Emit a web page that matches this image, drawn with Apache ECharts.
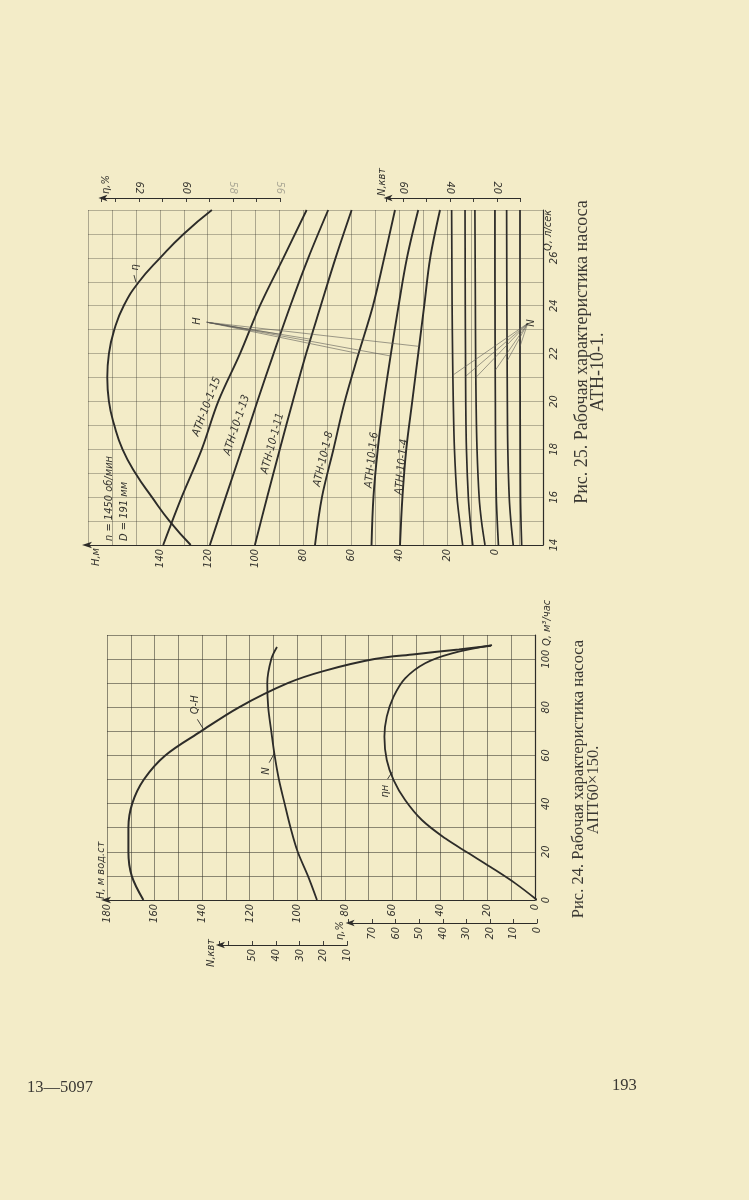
<!DOCTYPE html>
<html>
<head>
<meta charset="utf-8">
<title>Рабочие характеристики насосов</title>
<script src="https://cdn.jsdelivr.net/npm/echarts@6.0.0/dist/echarts.min.js"></script>
<style>
html,body{margin:0;padding:0;background:#f3ecc8;}
#chart{width:749px;height:1200px;}
</style>
</head>
<body>
<div id="chart"></div>
<script>
// ===== Рис. 24. Насос АПТ60×150 =====
const f24_QH_Q = [0, 10, 20, 30, 40, 50, 60, 70, 80, 90, 95, 100, 102, 104, 105.5];
const f24_QH_H = [164.7, 169.6, 171, 171, 169.4, 164.5, 155.5, 140.5, 124.5, 104, 89, 67.5, 50.5, 32, 18.5];
const f24_N_Q = [0, 10, 20, 30, 40, 50, 60, 70, 80, 90, 100, 105];
const f24_N = [22.8, 26.6, 30.9, 33.9, 36.4, 38.8, 40.6, 42.0, 43.3, 43.7, 42.0, 39.6];
const f24_eta_Q = [0, 6.9, 13.8, 19.4, 25.6, 33.2, 41.5, 49.8, 58.1, 67.8, 76.1, 84.4, 92, 98.3, 102.4, 105.8];
const f24_eta = [0, 9.2, 19.9, 29.0, 39.0, 48.9, 56.0, 60.9, 63.8, 64.8, 63.8, 60.9, 56.0, 47.5, 36.1, 19.1];
const f24_H_ticks = [0, 20, 40, 60, 80, 100, 120, 140, 160, 180];
const f24_Q_ticks = [0, 20, 40, 60, 80, 100];
const f24_eta_ticks = [0, 10, 20, 30, 40, 50, 60, 70];
const f24_N_ticks = [10, 20, 30, 40, 50];

// ===== Рис. 25. Насос АТН-10-1 =====
const f25_models = ['АТН-10-1-15', 'АТН-10-1-13', 'АТН-10-1-11', 'АТН-10-1-8', 'АТН-10-1-6', 'АТН-10-1-4'];
const f25_H_Q = [14, 16, 18, 20, 22, 24, 26, 28];
const f25_H15 = [138.6, 130.9, 122.5, 115.6, 106.5, 98.2, 88.4, 78.7];
const f25_H13 = [119.1, 112.5, 105.8, 99.3, 92.5, 85.5, 78.0, 69.7];
const f25_H11 = [100.3, 95.2, 89.9, 84.5, 78.9, 72.8, 66.6, 59.9];
const f25_H8 = [75.2, 72.3, 67.5, 62.8, 57.0, 51.0, 46.3, 41.8];
const f25_H6 = [51.6, 50.8, 49.0, 46.5, 43.5, 40.3, 36.8, 32.1];
const f25_H4 = [39.7, 38.7, 37.1, 34.6, 32.1, 29.6, 27.1, 23.0];
const f25_N_Q = [14, 15, 16, 18, 20, 22, 24, 26, 28];
const f25_N15 = [34.6, 35.9, 37.0, 38.1, 38.6, 38.9, 39.1, 39.2, 39.3];
const f25_N13 = [30.3, 31.4, 32.2, 33.0, 33.3, 33.4, 33.5, 33.55, 33.6];
const f25_N11 = [25.1, 26.6, 27.6, 28.5, 28.9, 29.1, 29.2, 29.3, 29.4];
const f25_N8 = [19.4, 19.9, 20.3, 20.6, 20.7, 20.8, 20.85, 20.9, 20.9];
const f25_N6 = [13.1, 14.1, 14.8, 15.4, 15.6, 15.7, 15.8, 15.85, 15.9];
const f25_N4 = [9.5, 9.8, 10.0, 10.1, 10.15, 10.2, 10.2, 10.2, 10.2];
const f25_eta_Q = [14, 15, 16, 17, 18, 19, 20, 21, 22, 23, 24, 25, 26, 27, 28];
const f25_eta = [59.8, 60.7, 61.45, 62.15, 62.7, 63.05, 63.28, 63.35, 63.28, 63.05, 62.65, 62.0, 61.1, 60.1, 58.9];
const f25_H_ticks = [0, 20, 40, 60, 80, 100, 120, 140];
const f25_Q_ticks = [14, 16, 18, 20, 22, 24, 26];
const f25_eta_ticks = [56, 58, 60, 62];
const f25_eta_faded = [56, 58];
const f25_N_ticks = [20, 40, 60];

// ===== styling =====
const INK = '#2d2c29';
const TXT = '#35342f';
const GRID24 = 'rgba(55,53,45,0.62)';
const GRID25 = 'rgba(55,53,45,0.42)';
const FONT = '"Liberation Sans Narrow", "DejaVu Sans Condensed", "Liberation Sans", "DejaVu Sans", sans-serif';
const SERIF = '"Liberation Serif", "DejaVu Serif", serif';
const LFONT = 'italic 11px ' + FONT;

function lbl(ticks, extra) {
  return Object.assign({
    show: true, rotate: 90, margin: 4, fontFamily: FONT, fontStyle: 'italic', fontSize: 11,
    color: TXT, showMinLabel: true, showMaxLabel: true,
    formatter: v => ticks.indexOf(v) >= 0 ? String(v) : ''
  }, extra || {});
}
function mainX(grid, min, max, gridColor, ticks) {
  return {
    type: 'value', gridIndex: grid, inverse: true, min, max, interval: 10, position: 'bottom',
    axisLine: { show: true, onZero: false, lineStyle: { color: INK, width: 1.2 },
      symbol: ['arrow', 'none'], symbolSize: [5, 10], symbolOffset: [-6, 0] },
    axisTick: { show: false },
    splitLine: { show: true, lineStyle: { color: gridColor, width: 0.9 } },
    axisLabel: lbl(ticks)
  };
}
function hiddenX(grid, min, max) {
  return { type: 'value', gridIndex: grid, inverse: true, min, max, show: false,
    axisLine: { onZero: false }, splitLine: { show: false } };
}
function scaleX(grid, min, max, interval, pos, ticks, extraLbl) {
  return {
    type: 'value', gridIndex: grid, inverse: true, min, max, interval, position: pos,
    axisLine: { show: true, onZero: false, lineStyle: { color: INK, width: 1 },
      symbol: ['arrow', 'none'], symbolSize: [5, 9], symbolOffset: [-3, 0] },
    axisTick: { show: true, inside: true, length: 4, lineStyle: { color: INK, width: 0.9 } },
    splitLine: { show: false },
    axisLabel: lbl(ticks, extraLbl)
  };
}
function hiddenY(grid) {
  return { type: 'value', gridIndex: grid, min: 0, max: 1, show: false, splitLine: { show: false } };
}
function curve(name, xi, yi, xs, qs, w, sm) {
  return {
    type: 'line', name, xAxisIndex: xi, yAxisIndex: yi,
    data: xs.map((x, i) => [x, qs[i]]),
    smooth: sm || 0.35, symbol: 'none', silent: true, animation: false, z: 3,
    lineStyle: { color: INK, width: w || 1.8 }
  };
}

const chart = echarts.init(document.getElementById('chart'), null, { renderer: 'canvas', width: 749, height: 1200 });

const f25_H_sets = [f25_H15, f25_H13, f25_H11, f25_H8, f25_H6, f25_H4];
const f25_N_sets = [f25_N15, f25_N13, f25_N11, f25_N8, f25_N6, f25_N4];

const option = {
  backgroundColor: '#f3ecc8',
  animation: false,
  grid: [
    { left: 107, top: 635, width: 428, height: 265, outerBoundsMode: 'none' },      // 0 fig.24 main
    { left: 348.6, top: 922, width: 188.4, height: 1, outerBoundsMode: 'none' },    // 1 fig.24 η scale
    { left: 218.9, top: 944, width: 128.4, height: 1, outerBoundsMode: 'none' },    // 2 fig.24 N scale
    { left: 88, top: 210, width: 455, height: 335, outerBoundsMode: 'none' },       // 3 fig.25 main
    { left: 101.4, top: 198, width: 178.6, height: 1, outerBoundsMode: 'none' },    // 4 fig.25 η scale
    { left: 386.55, top: 198, width: 133.95, height: 1, outerBoundsMode: 'none' }   // 5 fig.25 N scale
  ],
  xAxis: [
    mainX(0, 0, 180, GRID24, f24_H_ticks),            // 0 H, м вод.ст
    hiddenX(0, -68.9, 111.1),                          // 1 N, квт (fig.24)
    hiddenX(0, 0.85, 182.6),                           // 2 η, % (fig.24)
    scaleX(1, 0, 80, 10, 'bottom', f24_eta_ticks),     // 3 η scale
    scaleX(2, 10, 64, 10, 'bottom', f24_N_ticks),      // 4 N scale
    mainX(3, -20, 170, GRID25, f25_H_ticks),           // 5 H, м (fig.25)
    hiddenX(3, 0.43, 194),                             // 6 N, квт (fig.25)
    hiddenX(3, 44.81, 64.17),                          // 7 η, % (fig.25)
    scaleX(4, 56, 63.6, 1, 'top', f25_eta_ticks, {
      formatter: v => f25_eta_ticks.indexOf(v) >= 0 ? (f25_eta_faded.indexOf(v) >= 0 ? '{f|' + v + '}' : String(v)) : '',
      rich: { f: { color: '#aaa795', fontFamily: FONT, fontStyle: 'italic', fontSize: 11 } }
    }),
    scaleX(5, 10, 67, 10, 'top', f25_N_ticks)
  ],
  yAxis: [
    { type: 'value', gridIndex: 0, min: 0, max: 110, interval: 10, position: 'right',
      axisLine: { show: true, onZero: false, lineStyle: { color: INK, width: 1.2 } },
      axisTick: { show: false },
      splitLine: { show: true, lineStyle: { color: GRID24, width: 0.9 } },
      axisLabel: lbl(f24_Q_ticks, { margin: 6 }) },
    hiddenY(1),
    hiddenY(2),
    { type: 'value', gridIndex: 3, min: 14, max: 28, interval: 1, position: 'right',
      axisLine: { show: true, onZero: false, lineStyle: { color: INK, width: 1.2 } },
      axisTick: { show: false },
      splitLine: { show: true, lineStyle: { color: GRID25, width: 0.8 } },
      axisLabel: lbl(f25_Q_ticks, { margin: 6 }) },
    hiddenY(4),
    hiddenY(5)
  ],
  series: [
    curve('Q-H', 0, 0, f24_QH_H, f24_QH_Q, 2),
    curve('N', 1, 0, f24_N, f24_N_Q, 1.8),
    curve('ηн', 2, 0, f24_eta, f24_eta_Q, 1.8)
  ].concat(
    f25_models.map((m, i) => curve(m + ' H', 5, 3, f25_H_sets[i], f25_H_Q, 1.9)),
    f25_models.map((m, i) => curve(m + ' N', 6, 3, f25_N_sets[i], f25_N_Q, 1.7)),
    [curve('η', 7, 3, f25_eta, f25_eta_Q, 1.9, 0.5)]
  )
};
chart.setOption(option);

// ===== annotations (placed in data coordinates) =====
const P = (xi, yi, v) => chart.convertToPixel({ xAxisIndex: xi, yAxisIndex: yi }, v);
const R90 = Math.PI / 2;
function text(p, str, o) {
  o = o || {};
  const align = o.align || 'center', va = o.va || 'middle';
  return {
    type: 'text', x: p[0], y: p[1], rotation: o.rot !== undefined ? o.rot : R90, silent: true, z: 10,
    style: { text: str, font: o.font || LFONT, fill: o.color || TXT,
      align, verticalAlign: va, textAlign: align, textVerticalAlign: va }
  };
}
function seg(a, b, w, c) {
  return { type: 'line', silent: true, z: 9,
    shape: { x1: a[0], y1: a[1], x2: b[0], y2: b[1] },
    style: { stroke: c || '#5e5d57', lineWidth: w || 0.7 } };
}
const g = [];

// fig.24 curve labels
const f24_notes = [
  { s: 'Q-H', at: [143, 81], from: [142, 75], to: [139.6, 71.2], xi: 0 },
  { s: 'N', at: [113.1, 53.5], from: [111.8, 57], to: [109.6, 60.9], xi: 0 },
  { s: 'ηн', at: [63.1, 45.2], from: [62.0, 50.2], to: [60.1, 53.1], xi: 0 }
];
f24_notes.forEach(n => {
  g.push(text(P(n.xi, 0, n.at), n.s));
  g.push(seg(P(n.xi, 0, n.from), P(n.xi, 0, n.to), 0.9, INK));
});
// fig.24 axis names
g.push(text([101, 899], 'H, м вод.ст', { align: 'left' }));
g.push(text([547, 646], 'Q, м³/час', { align: 'left' }));
g.push(text([340, 940], 'η,%', { align: 'left' }));
g.push(text([211, 967], 'N,квт', { align: 'left' }));

// fig.25 model labels along H curves
const f25_label_at = [[120.4, 19.78], [107.9, 19.01], [92.9, 18.25], [71.7, 17.59], [51.5, 17.55], [39.0, 17.27]];
f25_models.forEach((m, i) => {
  const hs = f25_H_sets[i];
  const a = P(5, 3, [hs[1], f25_H_Q[1]]), b = P(5, 3, [hs[3], f25_H_Q[3]]);
  const rot = Math.atan2(a[1] - b[1], b[0] - a[0]);
  g.push(text(P(5, 3, f25_label_at[i]), m, { rot }));
});
// fig.25 leader fans
const f25_H_hub = [120.4, 23.31];
const f25_H_ends = [[102.4, 23.0], [89.7, 22.8], [77.1, 22.6], [57.0, 22.0], [43.65, 21.9], [31.7, 22.3]];
f25_H_ends.forEach(e => g.push(seg(P(5, 3, f25_H_hub), P(5, 3, e), 0.6)));
g.push(text(P(5, 3, [124.3, 23.36]), 'H'));
const f25_N_hub = [-13.6, 23.26];
const f25_N_ends = [[38.75, 21.1], [33.35, 21.05], [29.0, 21.0], [20.75, 21.3], [15.65, 21.7], [10.2, 22.3]];
f25_N_ends.forEach(e => g.push(seg(P(5, 3, f25_N_hub), P(6, 3, e), 0.6)));
g.push(text(P(5, 3, [-15.2, 23.28]), 'N'));
g.push(text(P(5, 3, [150.4, 25.6]), 'η'));
g.push(seg(P(5, 3, [150.8, 25.28]), P(5, 3, [150.0, 24.99]), 0.9, INK));
// fig.25 axis names and notes
g.push(text([106, 194], 'η,%', { align: 'left' }));
g.push(text([382, 196], 'N,квт', { align: 'left' }));
g.push(text([96, 548], 'H,м', { align: 'right' }));
g.push(text([548, 251], 'Q, л/сек', { align: 'left' }));
g.push(text([109, 541], 'n = 1450 об/мин', { align: 'left' }));
g.push(text([124, 541], 'D = 191 мм', { align: 'left' }));

// captions and page footer
const CAP24 = '16.5px ' + SERIF;
const CAP25 = '18px ' + SERIF;
g.push(text([579, 779], 'Рис. 24. Рабочая характеристика насоса', { font: CAP24, color: '#3a3833' }));
g.push(text([594, 790], 'АПТ60×150.', { font: CAP24, color: '#3a3833' }));
g.push(text([582, 352], 'Рис. 25. Рабочая характеристика насоса', { font: CAP25, color: '#3a3833' }));
g.push(text([598, 372], 'АТН-10-1.', { font: CAP25, color: '#3a3833' }));
g.push(text([27, 1088], '13—5097', { font: '16.5px ' + SERIF, color: '#3a3833', rot: 0, align: 'left' }));
g.push(text([612, 1086], '193', { font: '16.5px ' + SERIF, color: '#3a3833', rot: 0, align: 'left' }));

chart.setOption({ graphic: g });
</script>
</body>
</html>
